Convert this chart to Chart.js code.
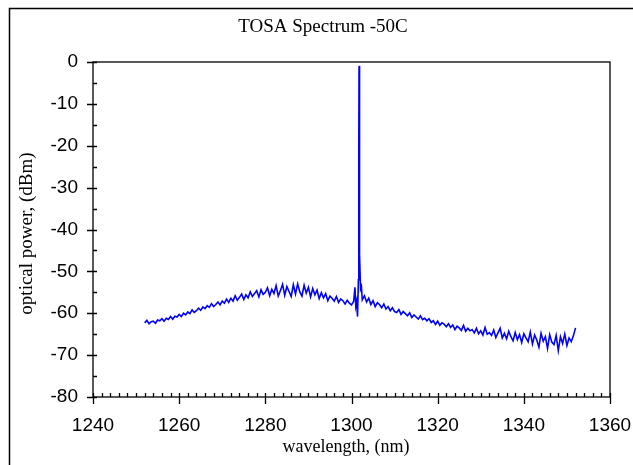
<!DOCTYPE html>
<html>
<head>
<meta charset="utf-8">
<script src="https://cdn.jsdelivr.net/npm/chart.js@4/dist/chart.umd.min.js"></script>
<style>
  body { margin: 0; background: #fff; }
  canvas { display: block; }
</style>
</head>
<body>
<canvas id="grafico" width="633" height="465"></canvas>
<script>
// comprimento de onda (nm)
const wavelength = [
  1252.0, 1252.5, 1253.0, 1253.5, 1254.0, 1254.5, 1255.0, 1255.5, 1256.0, 1256.5,
  1257.0, 1257.5, 1258.0, 1258.5, 1259.0, 1259.5, 1260.0, 1260.5, 1261.0, 1261.5,
  1262.0, 1262.5, 1263.0, 1263.5, 1264.0, 1264.5, 1265.0, 1265.5, 1266.0, 1266.5,
  1267.0, 1267.5, 1268.0, 1268.5, 1269.0, 1269.5, 1270.0, 1270.5, 1271.0, 1271.5,
  1272.0, 1272.5, 1273.0, 1273.5, 1274.0, 1274.5, 1275.0, 1275.5, 1276.0, 1276.5,
  1277.0, 1277.5, 1278.0, 1278.5, 1279.0, 1279.5, 1280.0, 1280.5, 1281.0, 1281.5,
  1282.0, 1282.5, 1283.0, 1283.5, 1284.0, 1284.5, 1285.0, 1285.5, 1286.0, 1286.5,
  1287.0, 1287.5, 1288.0, 1288.5, 1289.0, 1289.5, 1290.0, 1290.5, 1291.0, 1291.5,
  1292.0, 1292.5, 1293.0, 1293.5, 1294.0, 1294.5, 1295.0, 1295.5, 1296.0, 1296.5,
  1297.0, 1297.5, 1298.0, 1298.5, 1299.0, 1299.5, 1300.0, 1300.5,
  1300.8, 1301.0, 1301.2, 1301.4, 1301.6, 1301.7, 1301.75, 1301.8, 1301.85, 1301.95,
  1302.1, 1302.3, 1302.5,
  1303.0, 1303.5, 1304.0, 1304.5, 1305.0, 1305.5, 1306.0, 1306.5, 1307.0, 1307.5,
  1308.0, 1308.5, 1309.0, 1309.5, 1310.0, 1310.5, 1311.0, 1311.5, 1312.0, 1312.5,
  1313.0, 1313.5, 1314.0, 1314.5, 1315.0, 1315.5, 1316.0, 1316.5, 1317.0, 1317.5,
  1318.0, 1318.5, 1319.0, 1319.5, 1320.0, 1320.5, 1321.0, 1321.5, 1322.0, 1322.5,
  1323.0, 1323.5, 1324.0, 1324.5, 1325.0, 1325.5, 1326.0, 1326.5, 1327.0, 1327.5,
  1328.0, 1328.5, 1329.0, 1329.5, 1330.0, 1330.5, 1331.0, 1331.5, 1332.0, 1332.5,
  1333.0, 1333.5, 1334.0, 1334.5, 1335.0, 1335.5, 1336.0, 1336.5, 1337.0, 1337.5,
  1338.0, 1338.5, 1339.0, 1339.5, 1340.0, 1340.5, 1341.0, 1341.5, 1342.0, 1342.5,
  1343.0, 1343.5, 1344.0, 1344.5, 1345.0, 1345.5, 1346.0, 1346.5, 1347.0, 1347.5,
  1348.0, 1348.5, 1349.0, 1349.5, 1350.0, 1350.5, 1351.0, 1351.5, 1352.0
];

// potência óptica (dBm)
const power = [
  -62.3, -61.7, -62.5, -62.0, -61.9, -62.4, -61.6, -61.8, -61.3, -61.9,
  -61.2, -61.5, -60.8, -61.4, -60.7, -60.9, -60.3, -60.8, -60.0, -60.4,
  -59.7, -60.1, -59.2, -59.8, -59.4, -58.8, -59.3, -58.5, -58.9, -58.2,
  -58.6, -57.7, -58.4, -57.9, -57.3, -58.0, -57.1, -57.6, -56.6, -57.4,
  -56.4, -57.1, -55.8, -56.9, -56.2, -55.4, -56.7, -55.6, -56.3, -54.9,
  -56.0, -55.3, -54.6, -56.1, -54.4, -55.5, -55.0, -53.9, -55.8, -54.3,
  -55.3, -53.4, -55.9, -54.6, -53.1, -55.7, -53.6, -54.8, -56.0, -53.2,
  -55.4, -53.0, -54.9, -55.9, -53.3, -55.2, -53.8, -56.1, -54.1, -55.6,
  -54.5, -56.5, -55.1, -56.3, -55.3, -57.0, -55.9, -56.4, -57.1, -56.0,
  -57.4, -56.6, -57.0, -57.8, -56.9, -57.6, -58.0, -57.2,
  -53.8, -58.3, -57.2, -60.8, -52.0, -20.0, -1.0, -0.9, -18.0, -46.0,
  -54.2, -53.6, -56.8,
  -55.8, -57.3, -56.4, -57.9, -57.0, -58.4, -57.5, -57.9, -58.7, -57.8,
  -59.0, -58.4, -59.4, -58.7, -59.6, -59.8, -59.1, -60.3, -59.6, -60.1,
  -60.6, -59.9, -61.0, -60.4, -60.9, -61.4, -60.6, -61.5, -61.2, -61.8,
  -61.3, -62.2, -61.8, -62.7, -61.9, -62.9, -62.3, -62.6, -63.2, -62.5,
  -63.4, -62.8, -63.9, -63.1, -63.5, -64.1, -62.9, -64.3, -63.6, -64.2,
  -63.9, -64.7, -63.6, -64.9, -64.2, -65.2, -63.4, -65.0, -64.6, -65.3,
  -64.0, -65.8, -64.7, -63.6, -65.9, -64.8, -66.1, -64.3, -65.6, -66.6,
  -64.6, -66.3, -65.1, -67.0, -64.9, -65.9, -66.8, -64.5, -67.3, -65.2,
  -66.4, -68.1, -64.8, -66.7, -65.6, -68.4, -65.1, -66.9, -67.5, -65.3,
  -68.9, -65.6, -67.2, -65.0, -67.7, -65.9, -66.8, -65.4, -63.5
];

const xTicks = [1240, 1260, 1280, 1300, 1320, 1340, 1360];
const yTicks = [0, -10, -20, -30, -40, -50, -60, -70, -80];

const serif = '"Liberation Serif", "Times New Roman", serif';
const sans = '"Liberation Sans", Arial, sans-serif';

// moldura, marcas menores e títulos
const extras = {
  id: 'extras',
  afterDraw(chart) {
    const c = chart.ctx;
    const a = chart.chartArea;
    const sx = chart.scales.x;
    const sy = chart.scales.y;
    c.save();
    c.strokeStyle = '#000';
    c.lineWidth = 1.3;
    c.strokeRect(a.left, a.top, a.right - a.left, a.bottom - a.top);

    c.beginPath();
    for (let v = -80; v <= 0; v += 5) {
      const y = Math.round(sy.getPixelForValue(v)) + 0.5;
      const major = v % 10 === 0;
      c.moveTo(major ? a.left - 6 : a.left, y);
      c.lineTo(a.left + 4, y);
    }
    for (let w = 1240; w <= 1360; w += 2) {
      const x = Math.round(sx.getPixelForValue(w)) + 0.5;
      const major = (w - 1240) % 20 === 0;
      c.moveTo(x, a.bottom - 4);
      c.lineTo(x, major ? a.bottom + 7 : a.bottom);
    }
    c.stroke();

    // moldura externa
    c.beginPath();
    c.lineWidth = 1.5;
    c.moveTo(9.5, 465);
    c.lineTo(9.5, 8.5);
    c.lineTo(633, 8.5);
    c.stroke();

    c.fillStyle = '#000';
    c.textAlign = 'center';
    c.textBaseline = 'middle';
    c.font = '19px ' + serif;
    c.fillText('TOSA Spectrum -50C', 323, 27);
    c.font = '18px ' + serif;
    c.fillText('wavelength, (nm)', 346, 447);
    c.font = '19px ' + serif;
    c.translate(27, (a.top + a.bottom) / 2 + 4);
    c.rotate(-Math.PI / 2);
    c.fillText('optical power, (dBm)', 0, 0);
    c.restore();
  }
};

const ctx = document.getElementById('grafico').getContext('2d');

new Chart(ctx, {
  type: 'line',
  data: {
    datasets: [{
      data: wavelength.map((w, i) => ({ x: w, y: power[i] })),
      borderColor: '#0000ff',
      borderWidth: 1.6,
      pointRadius: 0,
      tension: 0
    }]
  },
  options: {
    responsive: false,
    animation: false,
    layout: { padding: { top: 62, right: 23, left: 0, bottom: 0 } },
    plugins: { legend: { display: false }, tooltip: { enabled: false } },
    scales: {
      x: {
        type: 'linear',
        min: 1240,
        max: 1360,
        afterFit: s => { s.height = 68; s.paddingLeft = 0; s.paddingRight = 0; },
        afterBuildTicks: s => { s.ticks = xTicks.map(v => ({ value: v })); },
        grid: { display: false, drawTicks: false },
        border: { display: false },
        ticks: {
          color: '#000', padding: 17, maxRotation: 0,
          font: { family: sans, size: 19 },
          callback: v => String(v)
        }
      },
      y: {
        min: -80,
        max: 0,
        afterFit: s => { s.width = 93; s.paddingTop = 0; s.paddingBottom = 0; },
        afterBuildTicks: s => { s.ticks = yTicks.map(v => ({ value: v })); },
        grid: { display: false, drawTicks: false },
        border: { display: false },
        ticks: {
          color: '#000', padding: 15,
          font: { family: sans, size: 19 },
          callback: v => String(v)
        }
      }
    }
  },
  plugins: [extras]
});
</script>
</body>
</html>
